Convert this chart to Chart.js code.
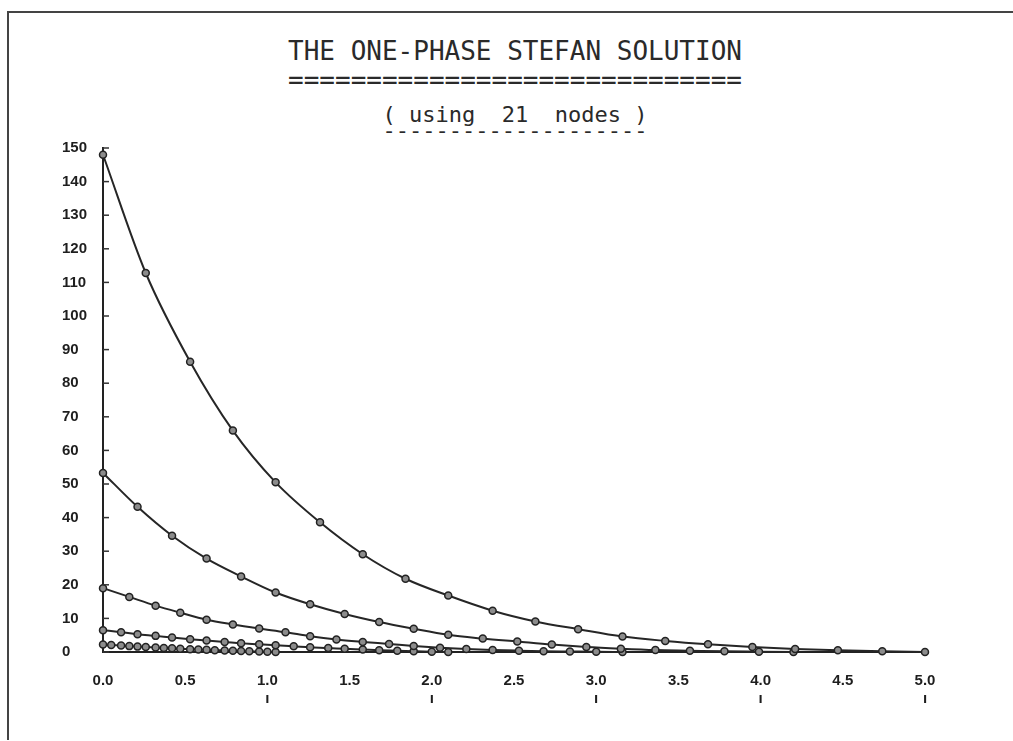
<!DOCTYPE html>
<html>
<head>
<meta charset="utf-8">
<script src="https://cdn.jsdelivr.net/npm/chart.js@4.4.1/dist/chart.umd.min.js"></script>
<style>
  body { margin: 0; background: #fff; }
  #wrap { position: relative; width: 1013px; height: 741px; overflow: hidden; }
  #frame {
    position: absolute; left: 7px; top: 11px; width: 1010px; height: 727px;
    border-top: 2px solid #444; border-left: 2px solid #444;
  }
  .ttl {
    position: absolute; left: 215px; width: 600px; text-align: center;
    white-space: pre; color: #2a2a2a; font-family: "DejaVu Sans Mono", monospace;
  }
  #t1 { top: 37px; font-size: 26px; line-height: 29px; }
  #t2 { top: 107px; font-size: 22px; line-height: 16px; }
  canvas { position: absolute; left: 0; top: 0; }
</style>
</head>
<body>
<div id="wrap">
  <div id="frame"></div>
  <div class="ttl" id="t1">THE ONE-PHASE STEFAN SOLUTION
=============================</div>
  <div class="ttl" id="t2">( using  21  nodes )
--------------------</div>
  <canvas id="chart" width="1013" height="741"></canvas>
</div>
<script>
// node positions and temperatures of each time level (front moves right)
const xA = [0, 0.26, 0.53, 0.79, 1.05, 1.32, 1.58, 1.84, 2.10, 2.37, 2.63, 2.89, 3.16, 3.42, 3.68, 3.95, 4.21, 4.47, 4.74, 5.00];
const tA = [148, 112.8, 86.4, 65.9, 50.5, 38.6, 29.1, 21.8, 16.8, 12.3, 9.1, 6.8, 4.6, 3.3, 2.3, 1.5, 0.9, 0.5, 0.2, 0];

const xB = [0, 0.21, 0.42, 0.63, 0.84, 1.05, 1.26, 1.47, 1.68, 1.89, 2.10, 2.31, 2.52, 2.73, 2.94, 3.15, 3.36, 3.57, 3.78, 3.99, 4.20];
const tB = [53.3, 43.2, 34.6, 27.8, 22.5, 17.7, 14.2, 11.3, 8.9, 6.9, 5.1, 4.0, 3.1, 2.2, 1.5, 1.0, 0.6, 0.4, 0.2, 0.1, 0];

const xC = [0, 0.16, 0.32, 0.47, 0.63, 0.79, 0.95, 1.11, 1.26, 1.42, 1.58, 1.74, 1.89, 2.05, 2.21, 2.37, 2.53, 2.68, 2.84, 3.00, 3.16];
const tC = [19.0, 16.4, 13.8, 11.7, 9.6, 8.2, 7.0, 5.9, 4.7, 3.7, 3.0, 2.4, 1.8, 1.3, 0.9, 0.6, 0.4, 0.25, 0.15, 0.05, 0];

const xD = [0, 0.11, 0.21, 0.32, 0.42, 0.53, 0.63, 0.74, 0.84, 0.95, 1.05, 1.16, 1.26, 1.37, 1.47, 1.58, 1.68, 1.79, 1.89, 2.00, 2.10];
const tD = [6.5, 5.9, 5.3, 4.8, 4.3, 3.8, 3.4, 3.0, 2.6, 2.3, 2.0, 1.7, 1.4, 1.2, 0.95, 0.75, 0.55, 0.4, 0.25, 0.1, 0];

const xE = [0, 0.05, 0.11, 0.16, 0.21, 0.26, 0.32, 0.37, 0.42, 0.47, 0.53, 0.58, 0.63, 0.68, 0.74, 0.79, 0.84, 0.89, 0.95, 1.00, 1.05];
const tE = [2.2, 2.05, 1.9, 1.75, 1.6, 1.5, 1.35, 1.2, 1.1, 1.0, 0.85, 0.75, 0.65, 0.55, 0.45, 0.35, 0.28, 0.2, 0.12, 0.05, 0];

const curves = [[xA, tA], [xB, tB], [xC, tC], [xD, tD], [xE, tE]];

function makeSet(xs, ts) {
  return {
    data: xs.map((x, i) => ({ x: x, y: ts[i] })),
    borderColor: "#262626",
    borderWidth: 2,
    pointRadius: 3.5,
    pointBorderWidth: 1.5,
    pointBorderColor: "#222",
    pointBackgroundColor: "#8c8c8c",
    cubicInterpolationMode: "monotone",
    clip: 8,
  };
}

// short tick marks on the inside of the y axis
const innerTicks = {
  id: "innerTicks",
  afterDraw(chart) {
    const y = chart.scales.y;
    const ctx = chart.ctx;
    const left = chart.chartArea.left;
    ctx.save();
    ctx.strokeStyle = "#333";
    ctx.lineWidth = 1.5;
    y.ticks.forEach((t) => {
      const py = y.getPixelForValue(t.value);
      ctx.beginPath();
      ctx.moveTo(left, py);
      ctx.lineTo(left + 6, py);
      ctx.stroke();
    });
    ctx.restore();
  },
};

const tickFont = { family: "Liberation Sans", size: 15, weight: "bold" };

new Chart(document.getElementById("chart"), {
  type: "line",
  plugins: [innerTicks],
  data: { datasets: curves.map((c) => makeSet(c[0], c[1])) },
  options: {
    responsive: false,
    animation: false,
    layout: { padding: { left: 62, top: 148, right: 88, bottom: 29 } },
    plugins: { legend: { display: false }, tooltip: { enabled: false } },
    scales: {
      x: {
        type: "linear",
        min: 0,
        max: 5,
        grid: { display: false, drawTicks: false },
        border: { display: true, color: "#222", width: 2 },
        ticks: {
          stepSize: 0.5,
          autoSkip: false,
          maxRotation: 0,
          padding: 20,
          color: "#1e1e1e",
          font: tickFont,
          callback: (v) => (Number.isInteger(v) && v > 0 ? [v.toFixed(1), "ı"] : v.toFixed(1)),
        },
        afterFit(scale) { scale.height = 60; },
      },
      y: {
        min: 0,
        max: 150,
        grid: { display: false, drawTicks: false },
        border: { display: true, color: "#222", width: 2 },
        ticks: { stepSize: 10, padding: 8, crossAlign: "far", color: "#1e1e1e", font: tickFont },
        afterFit(scale) { scale.width = 41; },
      },
    },
  },
});
</script>
</body>
</html>
